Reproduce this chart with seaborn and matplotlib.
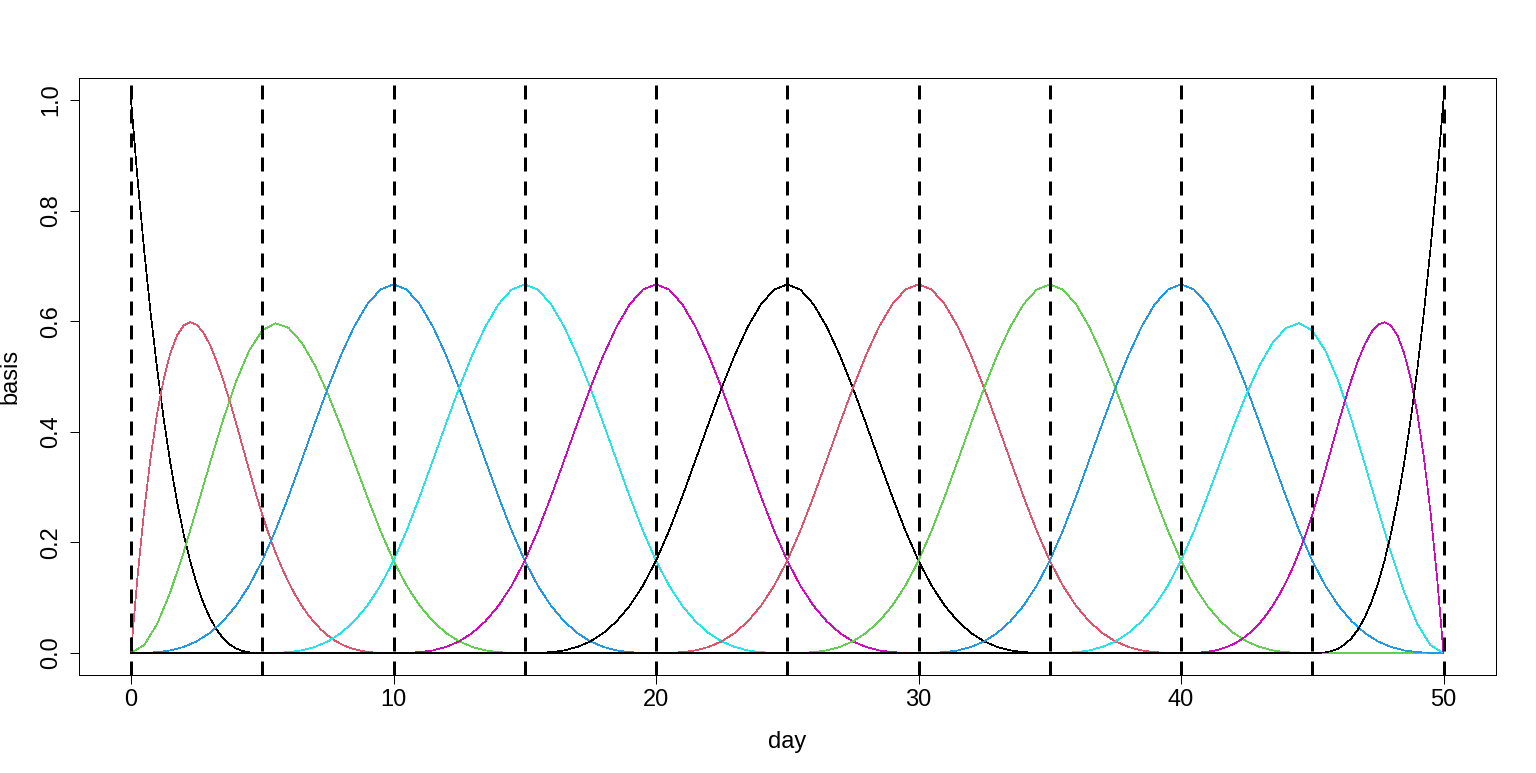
import numpy as np
import pandas as pd
import matplotlib
matplotlib.use("Agg")
import matplotlib.pyplot as plt
import seaborn as sns

# ---------------------------------------------------------------------------
# Data: cubic basis curves over days 0..50,
# knots every 5 days (dashed lines)
# ---------------------------------------------------------------------------
knots = [0, 5, 10, 15, 20, 25, 30, 35, 40, 45, 50]
x_ticks = [0, 10, 20, 30, 40, 50]
y_ticks = [0.0, 0.2, 0.4, 0.6, 0.8, 1.0]
y_tick_labels = ["0.0", "0.2", "0.4", "0.6", "0.8", "1.0"]

# left boundary curves starting at day 0 (b0, b1 every quarter day, b2 every half day)
b0_left = [1.0, 0.8574, 0.729, 0.6141, 0.512, 0.4219, 0.343, 0.2746, 0.216, 0.1664,
           0.125, 0.0911, 0.064, 0.0429, 0.027, 0.0156, 0.008, 0.0034, 0.001, 0.0001, 0.0]
b1_left = [0.0, 0.139, 0.2568, 0.3547, 0.434, 0.4961, 0.5423, 0.5738, 0.592, 0.5982,
           0.5938, 0.5799, 0.558, 0.5293, 0.4953, 0.457, 0.416, 0.3735, 0.3308, 0.2892,
           0.25, 0.2143, 0.1823, 0.1535, 0.128, 0.1055, 0.0858, 0.0687, 0.054, 0.0416,
           0.0313, 0.0228, 0.016, 0.0107, 0.0068, 0.0039, 0.002, 0.0008, 0.0003, 0.0, 0.0]
b2_left = [0.0, 0.0141, 0.0527, 0.1103, 0.1813, 0.2604, 0.342, 0.4206, 0.4907, 0.5468,
           0.5833, 0.5964, 0.588, 0.5616, 0.5207, 0.4688, 0.4093, 0.3459, 0.282, 0.2211,
           0.1667, 0.1215, 0.0853, 0.0572, 0.036, 0.0208, 0.0107, 0.0045, 0.0013, 0.0002, 0.0]

# interior curve (same shape for every inner knot), half days, offsets -10..10
interior = [0.0, 0.0002, 0.0013, 0.0045, 0.0107, 0.0208, 0.036, 0.0572, 0.0853, 0.1215,
            0.1667, 0.2212, 0.2827, 0.3482, 0.4147, 0.4792, 0.5387, 0.5902, 0.6307, 0.6572,
            0.6667,
            0.6572, 0.6307, 0.5902, 0.5387, 0.4792, 0.4147, 0.3482, 0.2827, 0.2212, 0.1667,
            0.1215, 0.0853, 0.0572, 0.036, 0.0208, 0.0107, 0.0045, 0.0013, 0.0002, 0.0]
interior_centers = [10, 15, 20, 25, 30, 35, 40]

# R default palette, cycled over the 13 curves
r_cols = ["#000000", "#DF536B", "#61D04F", "#2297E6", "#28E2E5", "#CD0BBC"]

# (first day, step in days, values)
curves = [(0, 0.25, b0_left), (0, 0.25, b1_left), (0, 0.5, b2_left)]
curves += [(c - 10, 0.5, interior) for c in interior_centers]
curves += [(35, 0.5, b2_left[::-1]), (40, 0.25, b1_left[::-1]), (45, 0.25, b0_left[::-1])]

rows = []
for i, (start, step, vals) in enumerate(curves):
    day = list(start + step * np.arange(len(vals)))
    basis = list(vals)
    # every curve runs along zero over the rest of the range
    if day[0] > 0:
        day, basis = [0.0] + day, [0.0] + basis
    if day[-1] < 50:
        day, basis = day + [50.0], basis + [0.0]
    rows.append(pd.DataFrame({"day": day, "basis": basis, "curve": i}))
df = pd.concat(rows, ignore_index=True)

palette = {i: r_cols[i % len(r_cols)] for i in range(len(curves))}

# ---------------------------------------------------------------------------
# Plot
# ---------------------------------------------------------------------------
sns.set_style("ticks")
plt.rcParams["font.family"] = ["Liberation Sans", "DejaVu Sans"]
plt.rcParams["font.size"] = 17
plt.rcParams["text.color"] = "black"
plt.rcParams["axes.labelcolor"] = "black"

fig = plt.figure(figsize=(15.36, 7.73), dpi=100)
ax = fig.add_axes([78.5 / 1536, 98 / 773, 1417.5 / 1536, 597 / 773])

sns.lineplot(data=df, x="day", y="basis", hue="curve", palette=palette,
             estimator=None, sort=False, legend=False, linewidth=0.5,
             antialiased=False, ax=ax)

for k in knots:
    ax.axvline(k, color="black", linewidth=2.16,
               linestyle=(0, (4.67, 3.33)), dash_capstyle="butt")

ax.set_xlim(-2, 52)
ax.set_ylim(-0.04, 1.04)
ax.set_xticks(x_ticks)
ax.set_yticks(y_ticks)
ax.set_yticklabels(y_tick_labels, rotation=90, va="center")

for side in ["left", "right", "top", "bottom"]:
    ax.spines[side].set_visible(True)
    ax.spines[side].set_linewidth(0.72)
    ax.spines[side].set_color("black")

ax.tick_params(axis="both", direction="out", length=6.8, width=0.72,
               colors="black", labelsize=17)
ax.tick_params(axis="x", pad=3)
ax.tick_params(axis="y", pad=5)

ax.set_xlabel("day", fontsize=17, color="black")
ax.set_ylabel("basis", fontsize=17, color="black")
ax.xaxis.label.set_va("center")
ax.yaxis.label.set_ha("center")
ax.yaxis.label.set_va("center")
ax.xaxis.set_label_coords(0.5, (675 - 742) / 597)
ax.yaxis.set_label_coords((10 - 78.5) / 1417.5, 0.5)

fig.savefig("out.png", dpi=100)
plt.close(fig)
